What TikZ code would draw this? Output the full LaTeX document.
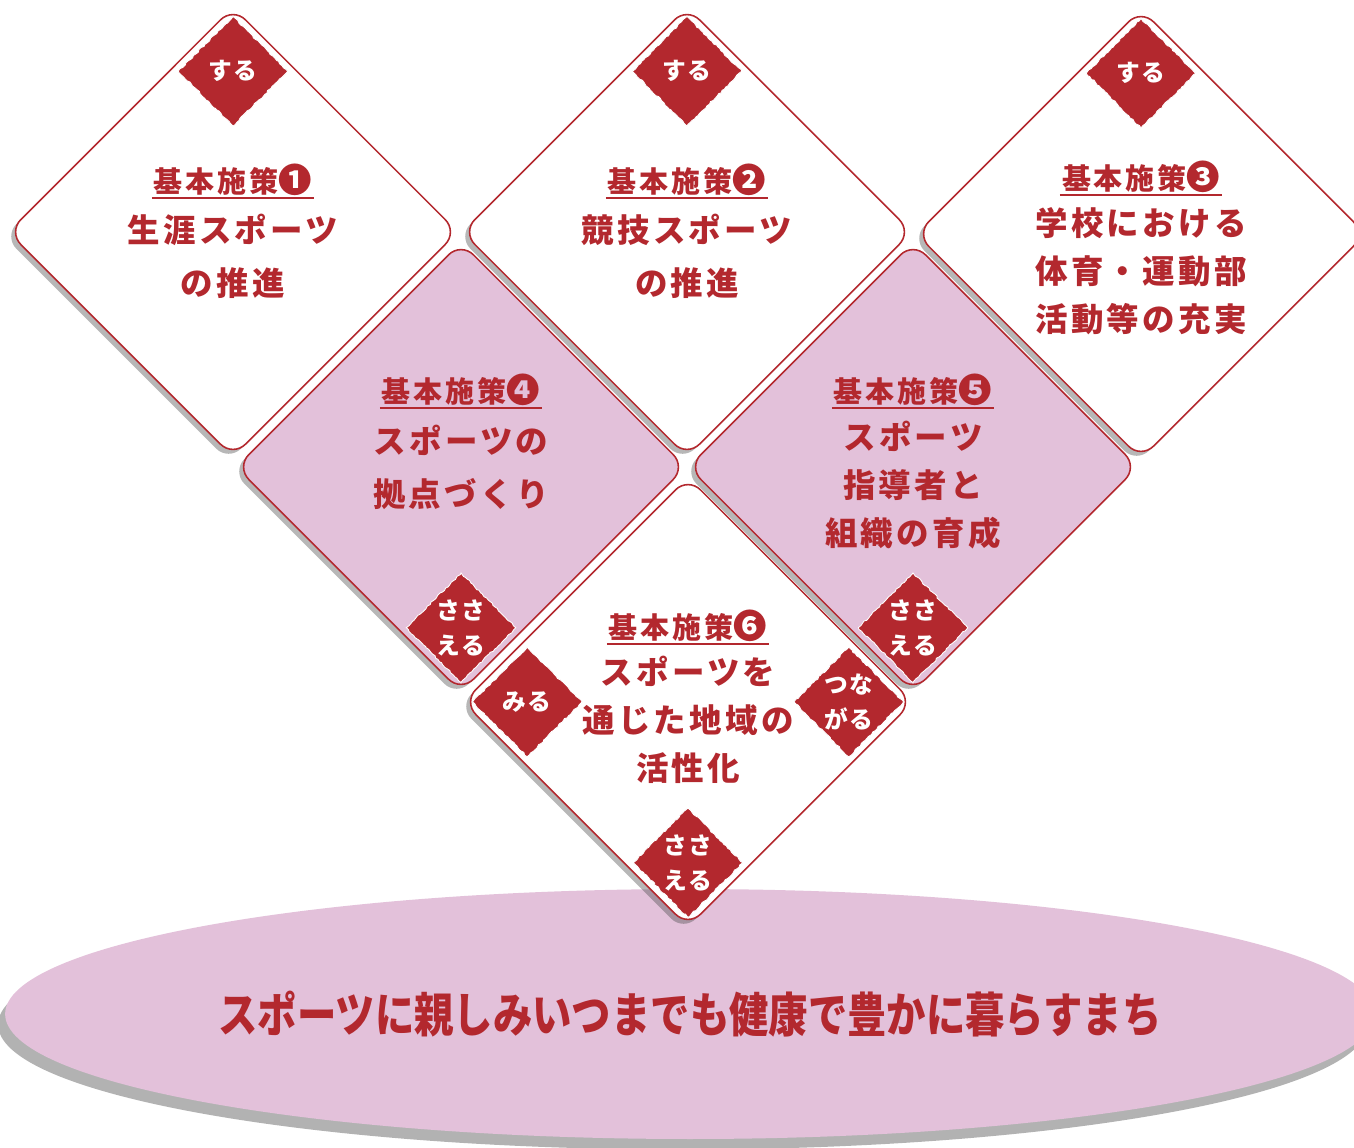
\documentclass[tikz,border=0pt]{standalone}
\usepackage{fontspec}
\usepackage{tikz}
\usetikzlibrary{shapes.geometric,shadows,decorations.pathmorphing,calc}
\usepackage{xcolor}
\newfontfamily\jpfont{Noto Sans CJK JP}
\newfontfamily\jpcond{Noto Sans CJK JP}[FakeStretch=0.83]
\definecolor{rojo}{HTML}{B3282E}
\definecolor{rosa}{HTML}{E3C1DA}
\newcommand{\numcirc}[1]{{\fontsize{19}{20}\selectfont #1}}
\tikzset{
  rombo/.style={diamond,aspect=1,minimum size=9.0cm,inner sep=0pt,draw=rojo,line width=0.9pt,
    rounded corners=0.35cm,drop shadow={shadow xshift=-2.5pt,shadow yshift=-2.5pt,opacity=0.4,fill=black!70}},
  sello/.style={diamond,aspect=1,minimum size=2.2cm,inner sep=0pt,fill=rojo,draw=white,line width=0.5pt,
    decorate,decoration={random steps,segment length=1.5pt,amplitude=0.45pt},
    text=white,align=center,font={\jpfont\bfseries\fontsize{13.5}{20}\selectfont\addfontfeature{LetterSpace=6}}},
  titulo/.style={text=rojo,inner sep=1pt,font={\jpfont\bfseries\fontsize{16.5}{20}\selectfont\addfontfeature{LetterSpace=10}}},
  cuerpo/.style={text=rojo,align=center,inner sep=0pt,font={\jpfont\bfseries\fontsize{18.5}{#1}\selectfont\addfontfeature{LetterSpace=10}}},
  cuerpo/.default=30
}
\begin{document}
\begin{tikzpicture}[x=0.02cm,y=-0.02cm]
  \useasboundingbox (0,0) rectangle (1354,1147);
  % base
  \node[ellipse,minimum width=27.4cm,minimum height=5cm,fill=rosa,text=rojo,
        drop shadow={shadow xshift=-4pt,shadow yshift=-6pt,opacity=0.5,fill=black!60},
        font=\jpcond\bfseries\fontsize{27}{30}\selectfont] (meta) at (690,1014)
        {スポーツに親しみいつまでも健康で豊かに暮らすまち};
  % rombos
  \foreach \n/\x/\y/\c in {1/233/232/white,2/687/232/white,3/1141/234/white,4/461/467/rosa,5/913/467/rosa,6/688/702/white}
    \node[rombo,fill=\c] (p\n) at (\x,\y) {};
  % sellos
  \foreach \n in {1,2,3} \node[sello] (s\n) at ($(p\n.north)+(0,65)$) {する};
  \foreach \n in {4,5,6} \node[sello] (b\n) at ($(p\n.south)+(0,-65)$) {ささ\\える};
  \node[sello] (mi) at ($(p6.west)+(65,0)$) {みる};
  \node[sello] (tu) at ($(p6.east)+(-65,0)$) {つな\\がる};
  % textos
  \node[titulo] (t1) at ($(p1)+(0,-52)$) {基本施策\numcirc{❶}};
  \node[cuerpo] (c1) at ($(p1)+(0,24)$) {生涯スポーツ\\の推進};
  \node[titulo] (t2) at ($(p2)+(0,-52)$) {基本施策\numcirc{❷}};
  \node[cuerpo] (c2) at ($(p2)+(0,24)$) {競技スポーツ\\の推進};
  \node[titulo] (t3) at ($(p3)+(0,-57)$) {基本施策\numcirc{❸}};
  \node[cuerpo=27.2] (c3) at ($(p3)+(0,37)$) {学校における\\体育・運動部\\活動等の充実};
  \node[titulo] (t4) at ($(p4)+(0,-77)$) {基本施策\numcirc{❹}};
  \node[cuerpo] (c4) at ($(p4)+(0,0)$) {スポーツの\\拠点づくり};
  \node[titulo] (t5) at ($(p5)+(0,-77)$) {基本施策\numcirc{❺}};
  \node[cuerpo=27.2] (c5) at ($(p5)+(0,18)$) {スポーツ\\指導者と\\組織の育成};
  \node[titulo] (t6) at ($(p6)+(0,-76)$) {基本施策\numcirc{❻}};
  \node[cuerpo=27.2] (c6) at ($(p6)+(0,18)$) {スポーツを\\通じた地域の\\活性化};
  \foreach \n in {1,...,6} \draw[rojo,line width=1.1pt] (t\n.south west) -- (t\n.south east); % subrayado
\end{tikzpicture}
\end{document}
